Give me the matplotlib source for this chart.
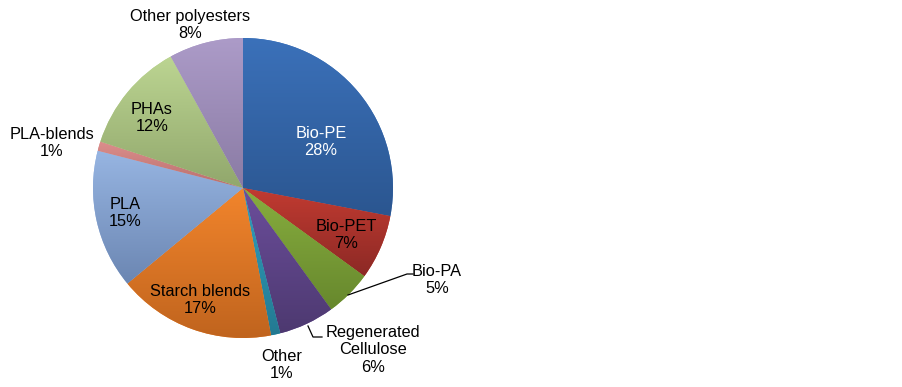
import numpy as np
import matplotlib.pyplot as plt
from matplotlib.colors import LinearSegmentedColormap

plt.rcParams['font.family'] = ['Liberation Sans', 'DejaVu Sans']

# data
labels = ['Bio-PE', 'Bio-PET', 'Bio-PA', 'Regenerated\nCellulose', 'Other',
          'Starch blends', 'PLA', 'PLA-blends', 'PHAs', 'Other polyesters']
shares = [28, 7, 5, 6, 1, 17, 15, 1, 12, 8]

# colours (light top -> dark bottom, like the excel gradient fill)
top_colors = ['#3B71BA', '#C23B31', '#88AE3F', '#6C4E9C', '#31A0BE',
              '#F2852C', '#97B5E2', '#DC8E8C', '#BCD592', '#AC9BC8']
bottom_colors = ['#2B5690', '#8C2925', '#67882D', '#4D3970', '#237A92',
                 '#C0641E', '#6B86B2', '#B86F6D', '#91A76C', '#8A7BA4']

W, H = 903, 387
fig = plt.figure(figsize=(W / 100, H / 100), dpi=100)
ax = fig.add_axes([0, 0, 1, 1])

cx, cy, rad = 243, H - 188, 150
wedges, _ = ax.pie(shares, startangle=90, counterclock=False,
                   center=(cx, cy), radius=rad,
                   colors=top_colors, wedgeprops=dict(linewidth=0))

# gradient fill clipped to each wedge
grad = np.linspace(0, 1, 256).reshape(-1, 1)
for w, ct, cb in zip(wedges, top_colors, bottom_colors):
    ext = w.get_path().get_extents()
    cmap = LinearSegmentedColormap.from_list('g', [cb, ct])
    im = ax.imshow(grad, cmap=cmap, origin='lower', aspect='auto',
                   extent=(ext.x0, ext.x1, ext.y0, ext.y1),
                   interpolation='bilinear', zorder=w.get_zorder() + 0.1)
    im.set_clip_path(w)

# label positions (pixel coords, y from top)
label_pos = [(321, 142), (346, 235), (437, 280), (373, 350), (282, 365),
             (200, 300), (125, 213), (52, 143), (152, 118), (190, 25)]
label_col = ['white'] + ['black'] * 9
for lab, s, (x, y), c in zip(labels, shares, label_pos, label_col):
    ax.text(x, H - y, f'{lab}\n{s}%', ha='center', va='center',
            fontsize=11.8, color=c, linespacing=1.2, zorder=5)

# leader lines
ax.plot([348, 407, 413], [H - 295, H - 274, H - 274], color='black', lw=0.9, zorder=5)
ax.plot([308, 313, 322], [H - 326, H - 337, H - 337], color='black', lw=0.9, zorder=5)

ax.set_xlim(0, W)
ax.set_ylim(0, H)
ax.set_aspect('equal')
ax.axis('off')

fig.savefig('out.png', dpi=100)
